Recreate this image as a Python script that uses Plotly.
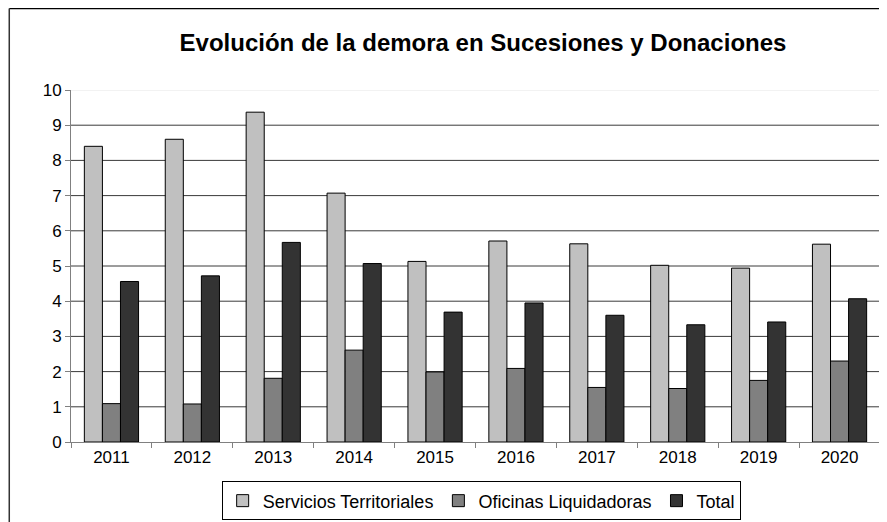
import plotly.graph_objects as go

years = ["2011", "2012", "2013", "2014", "2015", "2016", "2017", "2018", "2019", "2020"]
servicios = [8.4, 8.6, 9.37, 7.07, 5.13, 5.71, 5.63, 5.02, 4.94, 5.62]
oficinas = [1.09, 1.08, 1.81, 2.61, 1.99, 2.09, 1.55, 1.52, 1.75, 2.30]
total = [4.56, 4.72, 5.67, 5.07, 3.69, 3.95, 3.60, 3.33, 3.41, 4.07]

FONT = "Liberation Sans, Arial, sans-serif"

fig = go.Figure()

# Series
for name, vals, color in [
    ("Servicios Territoriales", servicios, "#C0C0C0"),
    ("Oficinas Liquidadoras", oficinas, "#808080"),
    ("Total", total, "#333333"),
]:
    fig.add_trace(
        go.Bar(
            x=years,
            y=vals,
            name=name,
            marker=dict(color=color, line=dict(color="black", width=1)),
        )
    )

# Horizontal grid lines (top one faint, like the original)
shapes = []
for v in range(1, 11):
    shapes.append(
        dict(
            type="line", xref="paper", yref="y", x0=0, x1=1, y0=v, y1=v,
            line=dict(color="#E6E6E6" if v == 10 else "#3a3a3a", width=1),
            layer="below",
        )
    )
# Outer chart frame (top and left edges visible)
shapes.append(dict(type="line", xref="paper", yref="paper", x0=-0.0763, x1=1.1, y0=1.2315, y1=1.2315,
                   line=dict(color="black", width=1.5)))
shapes.append(dict(type="line", xref="paper", yref="paper", x0=-0.0763, x1=-0.0763, y0=1.2315, y1=-0.3,
                   line=dict(color="#333333", width=1.5)))

fig.update_layout(
    width=887,
    height=522,
    margin=dict(l=63, r=15, t=82, b=88),
    paper_bgcolor="white",
    plot_bgcolor="white",
    barmode="group",
    bargap=0.33,
    bargroupgap=0,
    font=dict(family=FONT, size=17, color="black"),
    title=dict(
        text="<b>Evolución de la demora en Sucesiones y Donaciones</b>",
        x=0.5355,
        xanchor="center",
        y=0.933,
        yanchor="middle",
        font=dict(family=FONT, size=24, color="black"),
    ),
    xaxis=dict(
        showline=True,
        linecolor="#808080",
        linewidth=1,
        ticks="outside",
        ticklen=5,
        tickcolor="#808080",
        tickson="boundaries",
        showgrid=False,
        tickfont=dict(size=17),
    ),
    yaxis=dict(
        range=[0, 10],
        tickvals=list(range(0, 11)),
        showline=True,
        linecolor="#808080",
        linewidth=1,
        ticks="outside",
        ticklen=5,
        tickcolor="#808080",
        showgrid=False,
        zeroline=False,
        tickfont=dict(size=17),
    ),
    legend=dict(
        orientation="h",
        x=0.507,
        xanchor="center",
        yref="container",
        y=0.093,
        yanchor="top",
        bordercolor="black",
        borderwidth=1,
        font=dict(family=FONT, size=18),
        itemwidth=30,
        traceorder="normal",
        tracegroupgap=0,
        valign="middle",
    ),
    shapes=shapes,
)

fig.write_html("out.html")
